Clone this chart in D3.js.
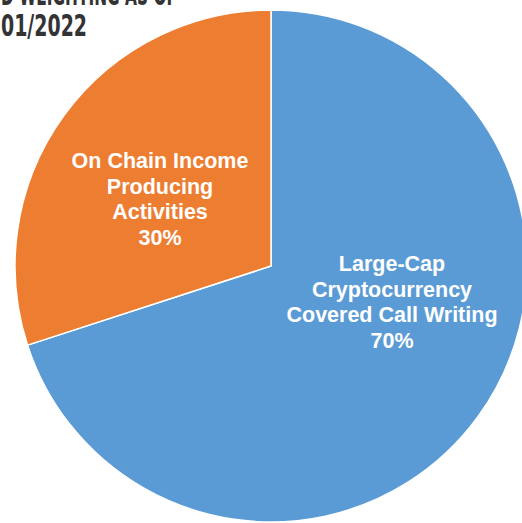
<!DOCTYPE html>
<html>
<head>
<meta charset="utf-8">
<script src="https://cdn.jsdelivr.net/npm/d3@7"></script>
<style>
  body { margin: 0; background: #fff; }
  svg { display: block; }
</style>
</head>
<body>
<svg id="chart" width="522" height="523"></svg>
<script>
// Chart data
var categories = ["Large-Cap Cryptocurrency Covered Call Writing", "On Chain Income Producing Activities"];
var values = [70, 30];
var labelLines = [
    ["Large-Cap", "Cryptocurrency", "Covered Call Writing", "70%"],
    ["On Chain Income", "Producing", "Activities", "30%"]
];
var colors = ["#5B9BD5", "#ED7D31"];
var titleLines = ["D WEIGHTING AS OF", "01/2022"];

var svg = d3.select("#chart");

// Pie geometry
var cx = 271, cy = 266, radius = 256;

var pie = d3.pie().sort(null).value(function(d) { return d; });
var arc = d3.arc().innerRadius(0).outerRadius(radius);
var arcs = pie(values);

var g = svg.append("g").attr("transform", "translate(" + cx + "," + cy + ")");

g.selectAll("path")
    .data(arcs)
    .enter().append("path")
    .attr("d", arc)
    .attr("fill", function(d, i) { return colors[i]; })
    .attr("stroke", "#fff")
    .attr("stroke-width", 1.5);

// Label positions (offset from pie centre, first baseline)
var labelPos = [
    { x: 121, y: 5 },
    { x: -111, y: -98 }
];
var lineHeight = 25.6;

for (var i = 0; i < arcs.length; ++i)
{
    var lines = labelLines[i];
    var t = g.append("text")
        .attr("text-anchor", "middle")
        .attr("font-family", "Liberation Sans, Arial, sans-serif")
        .attr("font-weight", "bold")
        .attr("font-size", 21.5)
        .attr("fill", "#fff");
    for (var j = 0; j < lines.length; ++j)
    {
        t.append("tspan")
            .attr("x", labelPos[i].x)
            .attr("y", labelPos[i].y + j * lineHeight)
            .text(lines[j]);
    }
}

// Title, cropped at the top like the source
var title = svg.append("g");
title.append("text")
    .attr("x", 1).attr("y", 5)
    .attr("font-family", "Liberation Sans Narrow, DejaVu Sans Condensed, sans-serif")
    .attr("font-weight", "bold")
    .attr("font-size", 30)
    .attr("fill", "#333")
    .attr("textLength", 176)
    .attr("lengthAdjust", "spacingAndGlyphs")
    .text(titleLines[0]);
title.append("text")
    .attr("x", 1).attr("y", 36)
    .attr("font-family", "Liberation Sans Narrow, DejaVu Sans Condensed, sans-serif")
    .attr("font-weight", "bold")
    .attr("font-size", 30)
    .attr("fill", "#333")
    .attr("textLength", 86)
    .attr("lengthAdjust", "spacingAndGlyphs")
    .text(titleLines[1]);
</script>
</body>
</html>
